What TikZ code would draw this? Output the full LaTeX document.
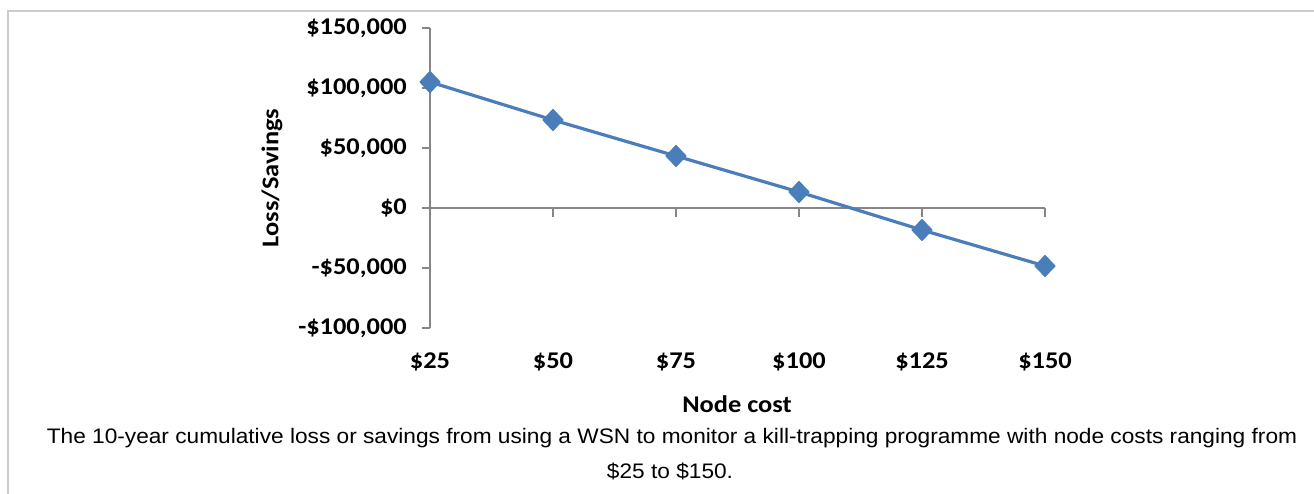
\documentclass[tikz,border=0pt]{standalone}
\usepackage{fontspec}
\setmainfont{Liberation Sans}
\newfontfamily\calib{Carlito}
\usetikzlibrary{shapes.geometric}
\definecolor{serblue}{HTML}{4A7EBB}
\definecolor{axgray}{HTML}{868686}
\definecolor{framegray}{HTML}{CCCCCC}
\newcommand{\sx}[1]{\scalebox{1.1}[1]{#1}}
\tikzset{
  axisline/.style={draw=axgray, line width=1.2pt},
  ticklab/.style={font=\calib\bfseries\fontsize{24}{26}\selectfont, inner sep=0pt},
  ylab/.style={ticklab, anchor=east},
  xlab/.style={ticklab, anchor=center},
  series/.style={draw=serblue, line width=3.2pt, line join=round},
  marker/.style={diamond, fill=serblue, draw=none, minimum width=21pt, minimum height=22pt, inner sep=0pt},
  caption/.style={font=\fontsize{21}{24}\selectfont, inner sep=0pt, anchor=center}
}
\begin{document}
\begin{tikzpicture}[x=1pt,y=-1pt]
\useasboundingbox (0,0) rectangle (1314,494);
\fill[white] (0,0) rectangle (1314,494);
% frame
\draw[framegray, line width=2pt] (8,494) -- (8,11) -- (1314,11);
% y axis
\coordinate (ytop) at (430,28);
\coordinate (ybot) at (430,328);
\draw[axisline] (ytop) -- (ybot);
\foreach \v/\yy in {150000/28,100000/88,50000/148,0/208,-50000/268,-100000/328}{
  \draw[axisline] (422,\yy) -- (430,\yy);
}
\node[ylab] (y1) at (407,28) {\sx{\$150,000}};
\node[ylab] (y2) at (407,88) {\sx{\$100,000}};
\node[ylab] (y3) at (407,148) {\sx{\$50,000}};
\node[ylab] (y4) at (407,208) {\sx{\$0}};
\node[ylab] (y5) at (407,268) {\sx{-\$50,000}};
\node[ylab] (y6) at (407,328) {\sx{-\$100,000}};
% x axis
\coordinate (xl) at (430,208);
\coordinate (xr) at (1045,208);
\draw[axisline] (xl) -- (xr);
\foreach \xx in {430,553,676,799,922,1045}{
  \draw[axisline] (\xx,208) -- (\xx,217);
}
\node[xlab] (x1) at (430,362) {\sx{\$25}};
\node[xlab] (x2) at (553,362) {\sx{\$50}};
\node[xlab] (x3) at (676,362) {\sx{\$75}};
\node[xlab] (x4) at (799,362) {\sx{\$100}};
\node[xlab] (x5) at (922,362) {\sx{\$125}};
\node[xlab] (x6) at (1045,362) {\sx{\$150}};
% axis titles
\node[xlab] (xt) at (737,404) {\sx{Node cost}};
\node[xlab, rotate=90] (yt) at (272,178) {\sx{Loss/Savings}};
% series
\node[marker] (p1) at (430,82) {};
\node[marker] (p2) at (553,120) {};
\node[marker] (p3) at (676,156) {};
\node[marker] (p4) at (799,192) {};
\node[marker] (p5) at (922,230) {};
\node[marker] (p6) at (1045,266) {};
\draw[series] (p1.center) -- (p2.center) -- (p3.center) -- (p4.center) -- (p5.center) -- (p6.center);
\foreach \p in {p1,p2,p3,p4,p5,p6}{\fill[serblue] (\p.north) -- (\p.east) -- (\p.south) -- (\p.west) -- cycle;}
% caption
\node[caption] (c1) at (672,438) {\scalebox{1.08}[1]{The 10-year cumulative loss or savings from using a WSN to monitor a kill-trapping programme with node costs ranging from}};
\node[caption] (c2) at (670,471) {\scalebox{1.08}[1]{\$25 to \$150.}};
\end{tikzpicture}
\end{document}
